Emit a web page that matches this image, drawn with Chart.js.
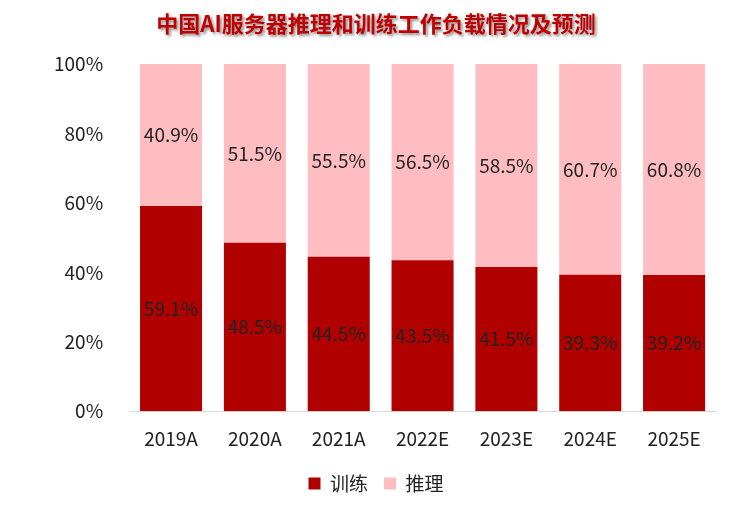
<!DOCTYPE html>
<html><head><meta charset="utf-8">
<script src="https://cdn.jsdelivr.net/npm/chart.js@4/dist/chart.umd.min.js"></script>
<style>body{margin:0;background:#fff}#w{width:752px;height:505px;position:relative}
#t{position:absolute;top:6px;left:0;width:752px;text-align:center;font:bold 22px "Noto Sans CJK SC";color:#C00000;text-shadow:2px 2px 3px rgba(0,0,0,0.45)}</style>
</head><body><div id="w"><div id="t">中国AI服务器推理和训练工作负载情况及预测</div><canvas id="c" width="752" height="505"></canvas></div>
<script>
const categories=["2019A","2020A","2021A","2022E","2023E","2024E","2025E"];
const training=[59.1,48.5,44.5,43.5,41.5,39.3,39.2];
const inference=[40.9,51.5,55.5,56.5,58.5,60.7,60.8];
const labelPlugin={id:'lbl',afterDatasetsDraw(ch){const c=ch.ctx;c.save();c.font='19px "Noto Sans CJK SC", "DejaVu Sans"';c.fillStyle='#222';c.textAlign='center';c.textBaseline='middle';
ch.data.datasets.forEach((d,i)=>{ch.getDatasetMeta(i).data.forEach((b,j)=>{const y=(b.y+b.base)/2;c.fillText(d.data[j].toFixed(1)+'%',b.x,y);});});c.restore();}};
new Chart(document.getElementById('c'),{type:'bar',data:{labels:categories,datasets:[
{label:'训练',data:training,backgroundColor:'#B00000'},
{label:'推理',data:inference,backgroundColor:'#FFBDC2'}]},
options:{responsive:false,animation:false,layout:{padding:{top:64,right:36,left:36,bottom:2}},
plugins:{legend:{position:'bottom',labels:{boxWidth:12,boxHeight:12,padding:16,font:{size:19,family:'Noto Sans CJK SC'},color:'#222'}},tooltip:{enabled:false}},
scales:{x:{stacked:true,grid:{display:false},border:{color:'#D9D9D9'},ticks:{padding:8,font:{size:19,family:'Noto Sans CJK SC'},color:'#222'}},
y:{stacked:true,min:0,max:100,grid:{display:false},border:{display:false},ticks:{stepSize:20,padding:18,callback:v=>v+'%',font:{size:19,family:'Noto Sans CJK SC'},color:'#222'}}},
datasets:{bar:{barPercentage:0.74,categoryPercentage:1}}},plugins:[labelPlugin]});
</script></body></html>
